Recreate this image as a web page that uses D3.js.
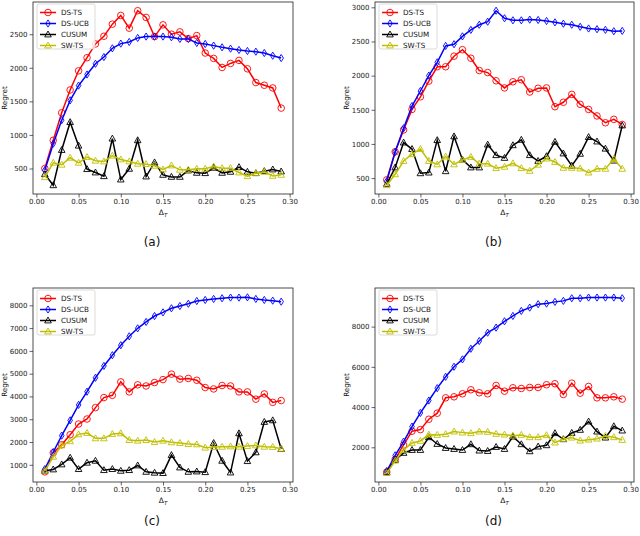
<!DOCTYPE html>
<html>
<head>
<meta charset="utf-8">
<script src="https://cdn.jsdelivr.net/npm/d3@7"></script>
<style>
  body { margin: 0; background: #fff; }
  text { font-family: "DejaVu Sans", sans-serif; }
</style>
</head>
<body>
<div id="chart"></div>
<script>
const width = 640;
const height = 536;

// Data: delta_T values shared by all panels
const deltas = [0.01, 0.02, 0.03, 0.04, 0.05, 0.06, 0.07, 0.08, 0.09, 0.10,
  0.11, 0.12, 0.13, 0.14, 0.15, 0.16, 0.17, 0.18, 0.19, 0.20,
  0.21, 0.22, 0.23, 0.24, 0.25, 0.26, 0.27, 0.28, 0.29];

// panel (a)
const dsTsA = [500, 920, 1330, 1670, 1955, 2150, 2355, 2470, 2650, 2780,
  2590, 2850, 2750, 2465, 2640, 2500, 2535, 2435, 2480, 2220,
  2140, 2005, 2065, 2110, 1985, 1780, 1740, 1700, 1400];
const dsUcbA = [475, 870, 1220, 1515, 1735, 1900, 2060, 2160, 2290, 2360,
  2385, 2445, 2465, 2465, 2465, 2455, 2430, 2430, 2370, 2355,
  2330, 2305, 2285, 2265, 2250, 2240, 2220, 2180, 2145];
const cusumA = [415, 250, 775, 1190, 840, 490, 440, 385, 945, 335,
  495, 920, 380, 590, 405, 375, 375, 470, 435, 430,
  510, 435, 450, 520, 450, 430, 460, 485, 455];
const swTsA = [370, 585, 555, 660, 585, 670, 615, 605, 690, 635,
  605, 570, 565, 540, 485, 545, 480, 480, 495, 495,
  530, 505, 505, 440, 385, 430, 450, 390, 405];

// panel (b)
const dsTsB = [475, 885, 1205, 1505, 1690, 1920, 2130, 2130, 2285, 2380,
  2255, 2075, 2045, 1925, 1820, 1910, 1940, 1760, 1815, 1820,
  1545, 1610, 1725, 1580, 1505, 1410, 1310, 1360, 1285];
const dsUcbB = [455, 885, 1230, 1555, 1775, 2000, 2195, 2435, 2460, 2575,
  2670, 2745, 2790, 2950, 2840, 2810, 2810, 2820, 2815, 2800,
  2780, 2760, 2745, 2715, 2690, 2680, 2670, 2650, 2655];
const cusumB = [415, 655, 1020, 925, 570, 580, 1055, 600, 1110, 770,
  655, 655, 990, 835, 795, 980, 1060, 835, 750, 820,
  1030, 860, 680, 855, 1100, 1035, 930, 755, 1270];
const swTsB = [395, 555, 750, 850, 925, 750, 700, 815, 700, 765,
  810, 710, 710, 645, 665, 715, 645, 605, 695, 785,
  735, 650, 650, 640, 580, 635, 635, 780, 635];

// panel (c)
const dsTsC = [690, 1530, 1880, 2320, 2790, 3010, 3510, 3950, 4050, 4640,
  4200, 4510, 4460, 4610, 4740, 4980, 4760, 4790, 4710, 4390,
  4330, 4480, 4460, 4200, 4200, 3880, 4110, 3740, 3820];
const dsUcbC = [810, 1560, 2280, 2950, 3630, 4210, 4820, 5340, 5810, 6250,
  6640, 6990, 7270, 7530, 7690, 7870, 7970, 8070, 8190, 8235,
  8280, 8310, 8340, 8340, 8350, 8280, 8235, 8205, 8160];
const cusumC = [735, 795, 1015, 1310, 810, 1090, 1175, 765, 810, 735,
  765, 970, 690, 650, 635, 1425, 880, 690, 705, 675,
  1955, 1175, 660, 2380, 1160, 1545, 2880, 2950, 1690];
const swTsC = [735, 1350, 1850, 2030, 2335, 2395, 2160, 2160, 2350, 2380,
  2085, 2055, 2085, 2000, 2055, 1985, 1955, 1910, 1895, 1750,
  1780, 1790, 1805, 1790, 1820, 1850, 1790, 1780, 1700];

// panel (d)
const dsTsD = [770, 1400, 2115, 2800, 2880, 3395, 3695, 4460, 4510, 4660,
  4860, 4710, 4660, 5075, 4790, 4960, 4925, 4975, 4975, 5110,
  5160, 4625, 5190, 4690, 5025, 4460, 4460, 4510, 4395];
const dsUcbD = [820, 1600, 2280, 3030, 3710, 4325, 4940, 5505, 6005, 6370,
  6900, 7285, 7700, 7950, 8265, 8530, 8780, 8945, 9115, 9145,
  9230, 9280, 9410, 9410, 9445, 9445, 9445, 9445, 9410];
const cusumD = [755, 1370, 1720, 1865, 1865, 2500, 2165, 1965, 1915, 1865,
  2150, 1835, 1815, 2015, 1915, 2530, 2150, 1800, 2035, 2100,
  2700, 2400, 2715, 2865, 3280, 2780, 2480, 3045, 2830];
const swTsD = [720, 1335, 1865, 2215, 2315, 2630, 2615, 2650, 2780, 2730,
  2700, 2780, 2765, 2665, 2630, 2580, 2615, 2500, 2500, 2600,
  2235, 2415, 2480, 2330, 2380, 2430, 2565, 2500, 2365];

// tick labels
const xTicks = [0.00, 0.05, 0.10, 0.15, 0.20, 0.25, 0.30];
const yTicksA = [500, 1000, 1500, 2000, 2500];
const yTicksB = [500, 1000, 1500, 2000, 2500, 3000];
const yTicksC = [1000, 2000, 3000, 4000, 5000, 6000, 7000, 8000];
const yTicksD = [2000, 4000, 6000, 8000];

const seriesNames = ["DS-TS", "DS-UCB", "CUSUM", "SW-TS"];
const seriesColors = ["#ff0000", "#0000ff", "#000000", "#bfbf00"];
const seriesMarkers = ["circle", "diamond", "triangle", "triangle"];

const panels = [
  { label: "(a)", series: [dsTsA, dsUcbA, cusumA, swTsA], yTicks: yTicksA,
    yDomain: [120, 2980], box: { l: 33, r: 293, t: 2, b: 194 }, capY: 242 },
  { label: "(b)", series: [dsTsB, dsUcbB, cusumB, swTsB], yTicks: yTicksB,
    yDomain: [267, 3078], box: { l: 375, r: 634, t: 2, b: 194 }, capY: 242 },
  { label: "(c)", series: [dsTsC, dsUcbC, cusumC, swTsC], yTicks: yTicksC,
    yDomain: [245, 8760], box: { l: 33, r: 293, t: 288, b: 482 }, capY: 521 },
  { label: "(d)", series: [dsTsD, dsUcbD, cusumD, swTsD], yTicks: yTicksD,
    yDomain: [275, 9920], box: { l: 375, r: 634, t: 288, b: 482 }, capY: 521 }
];

const svg = d3
  .select("#chart")
  .append("svg")
  .attr("width", width)
  .attr("height", height);

function markerPath(kind) {
  if (kind === "circle") return d3.symbol(d3.symbolCircle, 34)();
  if (kind === "diamond") return "M0,-3.6L2.3,0L0,3.6L-2.3,0Z";
  return "M0,-3.5L3.3,2.4L-3.3,2.4Z";
}

panels.forEach((p) => {
  const g = svg.append("g");
  const x = d3.scaleLinear().domain([-0.004, 0.304]).range([p.box.l, p.box.r]);
  const y = d3.scaleLinear().domain(p.yDomain).range([p.box.b, p.box.t]);

  // Axes
  const xAxis = d3.axisBottom(x).tickValues(xTicks).tickFormat(d3.format(".2f"))
    .tickSize(3.5).tickSizeOuter(0).tickPadding(2);
  const yAxis = d3.axisLeft(y).tickValues(p.yTicks).tickFormat(d3.format("d"))
    .tickSize(3.5).tickSizeOuter(0).tickPadding(2);

  const gx = g.append("g").attr("transform", `translate(0, ${p.box.b})`).call(xAxis);
  const gy = g.append("g").attr("transform", `translate(${p.box.l}, 0)`).call(yAxis);
  [gx, gy].forEach((a) => {
    a.select(".domain").remove();
    a.selectAll("text").attr("font-size", 7).attr("fill", "#222")
      .attr("font-family", "DejaVu Sans");
    a.selectAll("line").attr("stroke", "#222").attr("stroke-width", 0.7);
  });

  // Lines and markers
  p.series.forEach((vals, si) => {
    const pts = deltas.map((d, i) => [d, vals[i]]);
    const line = d3.line().x((d) => x(d[0])).y((d) => y(d[1]));
    g.append("path")
      .attr("d", line(pts))
      .attr("fill", "none")
      .attr("stroke", seriesColors[si])
      .attr("stroke-width", 1.5);
    g.append("g")
      .selectAll("path")
      .data(pts)
      .enter()
      .append("path")
      .attr("transform", (d) => `translate(${x(d[0])}, ${y(d[1])})`)
      .attr("d", markerPath(seriesMarkers[si]))
      .attr("fill", "none")
      .attr("stroke", seriesColors[si])
      .attr("stroke-width", 0.9);
  });

  // Frame
  g.append("rect")
    .attr("x", p.box.l).attr("y", p.box.t)
    .attr("width", p.box.r - p.box.l).attr("height", p.box.b - p.box.t)
    .attr("fill", "none").attr("stroke", "#222").attr("stroke-width", 0.8);

  // Legend
  const lg = g.append("g").attr("transform", `translate(${p.box.l + 4}, ${p.box.t + 2})`);
  lg.append("rect")
    .attr("width", 58).attr("height", 45).attr("rx", 2)
    .attr("fill", "#fff").attr("fill-opacity", 0.8)
    .attr("stroke", "#ccc").attr("stroke-width", 0.7);
  seriesNames.forEach((name, si) => {
    const yy = 8.5 + si * 11;
    lg.append("line")
      .attr("x1", 3).attr("x2", 19).attr("y1", yy).attr("y2", yy)
      .attr("stroke", seriesColors[si]).attr("stroke-width", 1.5);
    lg.append("path")
      .attr("transform", `translate(11, ${yy})`)
      .attr("d", markerPath(seriesMarkers[si]))
      .attr("fill", "none").attr("stroke", seriesColors[si]).attr("stroke-width", 0.9);
    lg.append("text")
      .attr("x", 24).attr("y", yy).attr("dy", "0.35em")
      .attr("font-size", 7.2).attr("fill", "#111").text(name);
  });

  // Axis labels
  const cx = (p.box.l + p.box.r) / 2;
  const xl = g.append("text")
    .attr("x", cx).attr("y", p.box.b + 21)
    .attr("text-anchor", "middle").attr("font-size", 7.5).attr("fill", "#111");
  xl.append("tspan").text("Δ");
  xl.append("tspan").attr("font-size", 5.5).attr("dy", 1.8)
    .attr("font-style", "italic").text("T");

  const cy = (p.box.t + p.box.b) / 2;
  g.append("text")
    .attr("transform", `translate(${p.box.l - 26.5}, ${cy}) rotate(-90)`)
    .attr("text-anchor", "middle").attr("font-size", 7.2).attr("fill", "#111")
    .text("Regret");

  // Caption
  g.append("text")
    .attr("x", cx - 11).attr("y", p.capY).attr("dy", "0.35em")
    .attr("text-anchor", "middle")
    .attr("font-family", "DejaVu Serif").attr("font-size", 12)
    .attr("fill", "#111").text(p.label);
});
</script>
</body>
</html>
